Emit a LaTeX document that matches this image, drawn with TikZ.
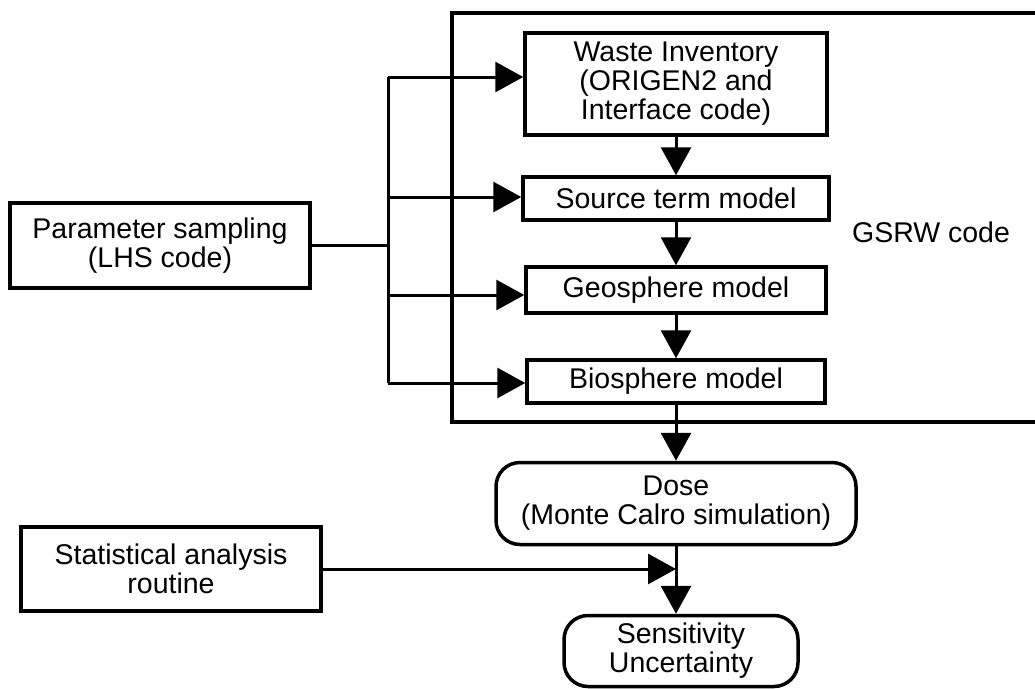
\documentclass[tikz,border=0pt]{standalone}
\usepackage{fontspec}
\setmainfont{Liberation Sans}
\usetikzlibrary{arrows.meta,positioning}

\begin{document}
\begin{tikzpicture}[x=1pt, y=-1pt, node distance=91.5pt, inner sep=0pt, line width=3pt,
	font=\fontsize{28.5}{29}\selectfont,
	main/.style = {draw, line width=3.5pt, fill=white, align=center, minimum width=300pt},
	soft/.style = {main, rounded corners=24pt},
	arr/.style = {-{Triangle[length=28pt, width=30pt]}}]
	\useasboundingbox (0,0) rectangle (1035,688);
	% GSRW frame, open on the right
	\draw[line width=3.5pt] (1035,13) -- (452,13) -- (452,422) -- (1035,422);
	\node (gsrw) at (931,232) {GSRW code};
	\node[main, minimum height=102pt, minimum width=302pt] (waste) at (676,84) {Waste Inventory\\(ORIGEN2 and\\Interface code)};
	\node[main, minimum height=43pt, minimum width=306pt] (src) at (676,198.5) {Source term model};
	\node[main, minimum height=46pt] (geo) [below of=src] {Geosphere model};
	\node[main, minimum height=43pt, minimum width=298pt] (bio) [below of=geo] {Biosphere model};
	\node[soft, minimum height=82pt, minimum width=360pt] (dose) at (676,503.5) {Dose\\(Monte Calro simulation)};
	\node[soft, minimum height=71pt, minimum width=234pt] (sens) at (681,651) {Sensitivity\\Uncertainty};
	\node[main, minimum height=85pt] (lhs) at (160,245.5) {Parameter sampling\\(LHS code)};
	\node[main, minimum height=84pt] (stat) at (171,569) {Statistical analysis\\routine};
	% sampling lines
	\coordinate (split) at (388,245.5);
	\draw (lhs) -- (split);
	\draw (388,77) -- (388,383);
	\foreach \n/\y in {waste/77, src/197, geo/295, bio/383}
		\draw[arr] (388,\y) -- (\n.west |- 0,\y);
	\draw[arr] (waste) -- (src);
	\draw[arr] (src) -- (geo);
	\draw[arr] (geo) -- (bio);
	\draw[arr] (bio) -- (dose);
	\draw[arr] (dose.south) -- (dose.south |- sens.north);
	\draw[arr] (stat) -- (stat -| dose.south);
\end{tikzpicture}
\end{document}
